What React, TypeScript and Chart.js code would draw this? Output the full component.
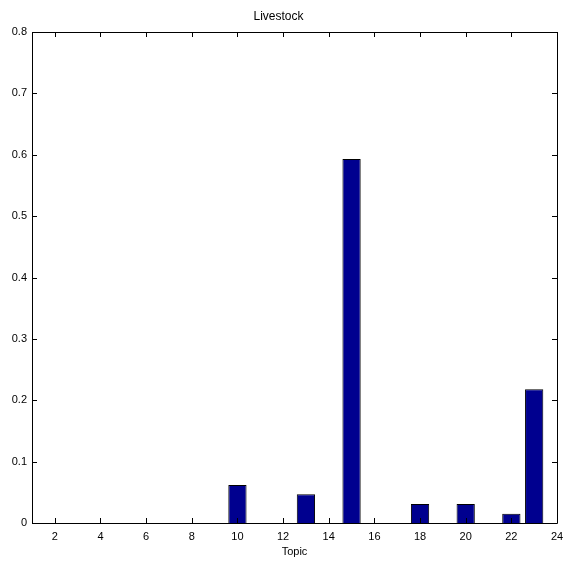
import React, { useEffect, useRef } from "react";
import { Chart, registerables } from "chart.js";

Chart.register(...registerables);

const chartTitle = "Livestock";
const xAxisLabel = "Topic";
const topics = [1, 2, 3, 4, 5, 6, 7, 8, 9, 10, 11, 12, 13, 14, 15, 16, 17, 18, 19, 20, 21, 22, 23];
const weights = [0, 0, 0, 0, 0, 0, 0, 0, 0, 0.062, 0, 0, 0.047, 0, 0.593, 0, 0, 0.031, 0, 0.031, 0, 0.015, 0.218];
const xTicks = [2, 4, 6, 8, 10, 12, 14, 16, 18, 20, 22, 24];
const yTicks = [0, 0.1, 0.2, 0.3, 0.4, 0.5, 0.6, 0.7, 0.8];

const FONT = "'Liberation Sans', Arial, Helvetica, sans-serif";

const innerTicks = {
  id: "innerTicks",
  afterDraw(chart: any) {
    const { ctx, chartArea } = chart;
    const { left, right, top, bottom } = chartArea;
    const xs = chart.scales.x;
    const ys = chart.scales.y;
    const L = 5;
    ctx.save();
    ctx.strokeStyle = "#000";
    ctx.lineWidth = 1;
    ctx.beginPath();
    ctx.rect(Math.round(left) + 0.5, Math.round(top) + 0.5, Math.round(right - left), Math.round(bottom - top));
    ctx.stroke();
    ctx.beginPath();
    for (const v of xTicks) {
      const px = Math.round(xs.getPixelForValue(v)) + 0.5;
      ctx.moveTo(px, bottom);
      ctx.lineTo(px, bottom - L);
      ctx.moveTo(px, top);
      ctx.lineTo(px, top + L);
    }
    for (const v of yTicks) {
      const py = Math.round(ys.getPixelForValue(v)) + 0.5;
      ctx.moveTo(left, py);
      ctx.lineTo(left + L, py);
      ctx.moveTo(right, py);
      ctx.lineTo(right - L, py);
    }
    ctx.stroke();
    ctx.restore();
  },
};

export default function App() {
  const ref = useRef<HTMLCanvasElement>(null);
  useEffect(() => {
    if (!ref.current) return;
    const chart = new Chart(ref.current, {
      type: "bar",
      data: {
        datasets: [
          {
            data: topics.map((t, i) => ({ x: t, y: weights[i] })),
            backgroundColor: "#00008F",
            borderColor: "#000000",
            borderWidth: 1,
            barPercentage: 0.8,
            categoryPercentage: 1,
            grouped: false,
          } as any,
        ],
      },
      options: {
        animation: false,
        responsive: false,
        maintainAspectRatio: false,
        layout: { padding: { left: 0, right: 7, top: 0, bottom: 0 } },
        plugins: {
          legend: { display: false },
          tooltip: { enabled: false },
          title: {
            display: true,
            text: chartTitle,
            color: "#000",
            font: { family: FONT, size: 12, weight: "normal" },
            padding: { top: 9, bottom: 8.6 },
          },
        },
        scales: {
          x: {
            type: "linear",
            min: 1,
            max: 24,
            offset: false,
            grid: { display: false, drawTicks: false },
            border: { display: false },
            afterBuildTicks: (s: any) => {
              s.ticks = xTicks.map((v) => ({ value: v }));
            },
            afterFit: (s: any) => {
              s.height = 41;
              s.paddingLeft = 0;
              s.paddingRight = 0;
            },
            ticks: {
              color: "#000",
              font: { family: FONT, size: 11 },
              padding: 7,
              maxRotation: 0,
              autoSkip: false,
              callback: (v: any) => String(v),
            },
            title: {
              display: true,
              text: xAxisLabel,
              color: "#000",
              font: { family: FONT, size: 11 },
              padding: { top: 0, bottom: 5 },
            },
          },
          y: {
            type: "linear",
            min: 0,
            max: 0.8,
            grid: { display: false, drawTicks: false },
            border: { display: false },
            afterBuildTicks: (s: any) => {
              s.ticks = yTicks.map((v) => ({ value: v }));
            },
            afterFit: (s: any) => {
              s.width = 32;
              s.paddingTop = 0;
              s.paddingBottom = 0;
            },
            ticks: {
              color: "#000",
              font: { family: FONT, size: 11 },
              padding: 5,
              autoSkip: false,
              callback: (v: any) => String(Math.round(Number(v) * 10) / 10),
            },
          },
        },
      } as any,
      plugins: [innerTicks],
    });
    return () => chart.destroy();
  }, []);
  return (
    <div style={{ position: "fixed", left: 0, top: 0, width: 564, height: 564, background: "#fff" }}>
      <canvas ref={ref} width={564} height={564} style={{ width: 564, height: 564 }} />
    </div>
  );
}
